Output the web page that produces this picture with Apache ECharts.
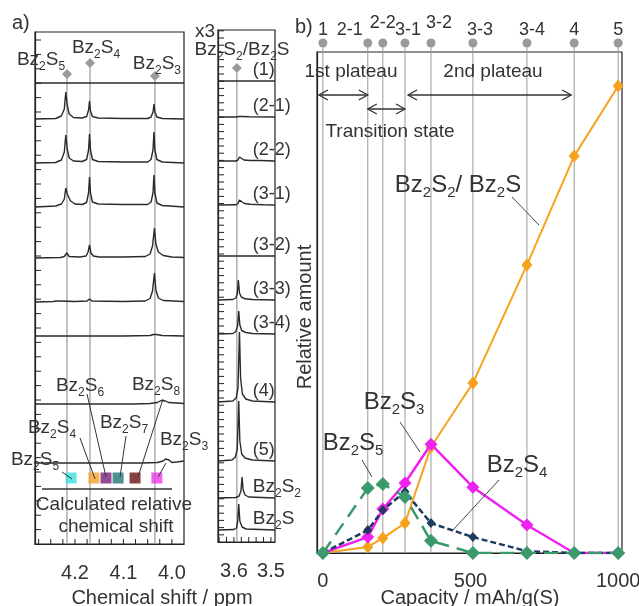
<!DOCTYPE html>
<html>
<head>
<meta charset="utf-8">
<title>Bz2Sx NMR spectra and relative amount</title>
<style>
  html, body { margin: 0; height: 100%; background: #fff; }
  #main { width: 639px; height: 606px; }
</style>
</head>
<body>
<div id="main"></div>
<script src="https://cdn.jsdelivr.net/npm/echarts@6/dist/echarts.min.js"></script>
<script>
var FONT = '"Liberation Sans", Arial, sans-serif';
var INK = '#333';

// ---- b) relative amount vs capacity ----
var capacity = [0, 152, 203, 278, 366, 508, 691, 851, 1000];
var sampleNames = ['1', '2-1', '2-2', '3-1', '3-2', '3-3', '3-4', '4', '5'];
var amountS2 = [0, 0.013, 0.032, 0.064, 0.227, 0.364, 0.617, 0.850, 1.0];
var amountS3 = [0, 0.034, 0.094, 0.150, 0.233, 0.141, 0.060, 0, 0];
var amountS4 = [0, 0.049, 0.092, 0.131, 0.064, 0.034, 0.004, 0, 0];
var amountS5 = [0, 0.139, 0.148, 0.120, 0.026, 0, 0, 0, 0];
var capacityLabels = [0, 500, 1000];

// ---- a) 1H NMR spectra, [ppm, intensity] ----
var spectrumNames = ['(1)', '(2-1)', '(2-2)', '(3-1)', '(3-2)', '(3-3)', '(3-4)', '(4)', '(5)', 'Bz2S2', 'Bz2S'];
var spectrumOffsets = [461, 425, 381, 337, 286, 242, 208, 140, 81, 44, 12];

var spectraLeft = [
  [[4.282, 0], [3.975, 0]],
  [[4.282, 0], [4.24, 0.5], [4.228, 3], [4.222, 10], [4.219, 27], [4.216, 14], [4.212, 5], [4.203, 1.5], [4.185, 1], [4.176, 2.5], [4.172, 9], [4.170, 18], [4.168, 8], [4.164, 2.5], [4.152, 1], [4.10, 0.5], [4.05, 0.5], [4.043, 2], [4.039, 7], [4.037, 15], [4.035, 7], [4.031, 2], [4.02, 0.5], [3.975, 0]],
  [[4.282, 0], [4.24, 0.5], [4.228, 3], [4.222, 11], [4.219, 28], [4.216, 14], [4.212, 5], [4.203, 2], [4.185, 1.5], [4.176, 3.5], [4.172, 13], [4.170, 29], [4.168, 13], [4.164, 3.5], [4.152, 1.5], [4.10, 1], [4.05, 1], [4.043, 3.5], [4.039, 13], [4.037, 31], [4.035, 13], [4.031, 3.5], [4.02, 1], [3.975, 0]],
  [[4.282, 0], [4.24, 1], [4.228, 3], [4.222, 8], [4.219, 19], [4.216, 13], [4.213, 14], [4.209, 6], [4.200, 3], [4.185, 2.5], [4.176, 4.5], [4.172, 14], [4.170, 30], [4.168, 14], [4.164, 5], [4.152, 3], [4.10, 2.5], [4.05, 2.5], [4.043, 5], [4.039, 14], [4.037, 32], [4.035, 14], [4.031, 4], [4.02, 1.5], [3.975, 0]],
  [[4.282, 0], [4.23, 0.5], [4.222, 1.5], [4.217, 5], [4.212, 1.5], [4.19, 1], [4.177, 2], [4.173, 6], [4.170, 13], [4.167, 5], [4.162, 2], [4.15, 1], [4.10, 1], [4.055, 1.5], [4.045, 4], [4.040, 12], [4.036, 30], [4.033, 14], [4.028, 6], [4.018, 2.5], [4.0, 1], [3.975, 0.5]],
  [[4.282, 0], [4.245, 0.5], [4.238, 1], [4.235, 3], [4.232, 1], [4.20, 0.5], [4.175, 1], [4.170, 3], [4.165, 1], [4.10, 0.5], [4.055, 1], [4.045, 3.5], [4.040, 11], [4.036, 29], [4.033, 12], [4.028, 4], [4.018, 1.5], [3.975, 0.5]],
  [[4.282, 0], [4.10, 0], [4.045, 0.5], [4.038, 1.5], [4.035, 3], [4.032, 1.5], [4.02, 0.5], [3.975, 0]],
  [[4.282, 0], [4.08, 0], [4.045, 0.5], [4.03, 1.5], [4.022, 3.5], [4.018, 5.5], [4.013, 3], [4.007, 1.5], [3.99, 1], [3.975, 0.5]],
  [[4.282, 0], [4.06, 0], [4.03, 0.5], [4.018, 2], [4.013, 4], [4.010, 6], [4.006, 3], [4.0, 0.5], [3.99, 1], [3.975, 2]]
];

var spectraRight = [
  [[3.643, 0], [3.489, 0]],
  [[3.643, 0], [3.595, 0], [3.587, 0.5], [3.583, 1.5], [3.578, 0.5], [3.56, 0.3], [3.489, 0]],
  [[3.643, 0], [3.595, 0], [3.589, 1], [3.585, 4], [3.581, 2], [3.573, 1], [3.555, 0.5], [3.535, 0.5], [3.532, 1.5], [3.529, 0.5], [3.489, 0]],
  [[3.643, 0], [3.595, 0.2], [3.589, 1.5], [3.585, 5], [3.581, 3], [3.572, 1.5], [3.555, 0.8], [3.52, 0.3], [3.489, 0]],
  [[3.643, 0], [3.489, 0]],
  [[3.643, 0], [3.603, 0.5], [3.595, 2], [3.591, 6], [3.588, 20], [3.585, 7], [3.580, 3], [3.57, 1.2], [3.55, 0.5], [3.489, 0]],
  [[3.643, 0], [3.603, 0.5], [3.595, 2.5], [3.590, 8], [3.587, 23], [3.584, 9], [3.579, 3.5], [3.568, 1.5], [3.55, 0.5], [3.489, 0]],
  [[3.643, 0], [3.603, 1], [3.594, 4], [3.589, 14], [3.585, 70], [3.582, 24], [3.577, 8], [3.568, 3], [3.55, 1], [3.489, 0]],
  [[3.643, 0], [3.605, 1], [3.596, 4], [3.591, 12], [3.587, 60], [3.584, 20], [3.579, 7], [3.570, 3], [3.55, 1], [3.489, 0]],
  [[3.643, 0], [3.595, 0.5], [3.586, 2], [3.581, 7], [3.578, 21], [3.575, 8], [3.570, 3], [3.56, 1], [3.489, 0]],
  [[3.643, 0], [3.600, 0.5], [3.593, 2], [3.590, 8], [3.587, 26], [3.584, 9], [3.578, 3], [3.567, 1], [3.489, 0]]
];

var refNames = ['Bz2S5', 'Bz2S4', 'Bz2S3'];
var refShifts = [4.2165, 4.169, 4.035];
var refNameRight = 'Bz2S2/Bz2S';
var refShiftRight = 3.592;

var calcNames = ['Bz2S5', 'Bz2S4', 'Bz2S6', 'Bz2S7', 'Bz2S8', 'Bz2S3'];
var calcShifts = [4.208, 4.161, 4.136, 4.111, 4.076, 4.031];

var leftTickValues = [4.275, 4.25, 4.225, 4.2, 4.175, 4.15, 4.125, 4.1, 4.075, 4.05, 4.025, 4.0];
var leftTickLabels = [4.0, 4.1, 4.2];
var rightTickValues = [3.50, 3.52, 3.54, 3.56, 3.58, 3.60, 3.62, 3.64];
var rightTickLabels = [3.5, 3.6];

// ---- layout / style ----
var calcColors = ['#3ee0e0', '#f5a02a', '#7a1f7a', '#1f7777', '#6b1010', '#e83ae8'];
var refTopLeft = [470, 481, 468];
var refLabelShift = [[-26, -14], [6, -15], [2, -12]];
var sampleDx = [0, -18, 0, 3, 8, 7, 5, 0, 0];
var sampleDy = [0, 0, -7, 0, -7, 0, 0, 0, 0];

// evenly spaced inner ticks along the stacked-spectra axes
function tickSteps(max, step) {
  var out = [];
  for (var v = step; v < max; v += step) out.push(Math.round(v * 10) / 10);
  return out;
}

function chem(t) {
  return t.replace(/(\d)|([^\d]+)/g, function (m, d, s) {
    return d ? '{s|' + d + '}' : '{n|' + s + '}';
  });
}
function richSet(big, small) {
  return {
    n: {fontSize: big, fontFamily: FONT, fill: INK, color: INK, lineHeight: big + 6, verticalAlign: 'middle'},
    s: {fontSize: small, fontFamily: FONT, fill: INK, color: INK, lineHeight: small, verticalAlign: 'bottom'}
  };
}
var richA = richSet(19, 12);
var richB = richSet(24, 15);

function label(txt, x, y, opts) {
  opts = opts || {};
  var isChem = /^Bz/.test(txt);
  return {
    type: 'text', z: 100, silent: true,
    x: x, y: y, rotation: opts.rotation || 0,
    style: {
      text: isChem ? chem(txt) : txt,
      rich: isChem ? (opts.rich || richA) : undefined,
      font: (opts.size || 19) + 'px ' + FONT,
      fill: INK,
      align: opts.align || 'center',
      verticalAlign: 'middle'
    }
  };
}
function seg(x1, y1, x2, y2, color, w) {
  return {type: 'line', z: 100, silent: true, shape: {x1: x1, y1: y1, x2: x2, y2: y2},
    style: {stroke: color || '#555', lineWidth: w || 1}};
}
function arrow(x1, x2, y) {
  return [
    seg(x1, y, x2, y, '#333', 1.3),
    {type: 'polyline', z: 100, silent: true, shape: {points: [[x1 + 9, y - 5], [x1, y], [x1 + 9, y + 5]]}, style: {stroke: '#333', lineWidth: 1.3, fill: null}},
    {type: 'polyline', z: 100, silent: true, shape: {points: [[x2 - 9, y - 5], [x2, y], [x2 - 9, y + 5]]}, style: {stroke: '#333', lineWidth: 1.3, fill: null}}
  ];
}

var chart = echarts.init(document.getElementById('main'));

function nmrXAxis(grid, min, max, labels) {
  return {
    type: 'value', gridIndex: grid, min: min, max: max, inverse: true,
    axisLine: {show: true, onZero: false, lineStyle: {color: '#222', width: 1.2}},
    axisTick: {show: false},
    axisLabel: {show: true, customValues: labels, margin: 19, fontSize: 20, fontFamily: FONT, color: INK,
      formatter: function (v) { return v.toFixed(1); }},
    splitLine: {show: false}
  };
}
function nmrYAxis(grid) {
  return {
    type: 'value', gridIndex: grid, min: 0, max: 512,
    axisLine: {show: true, onZero: false, lineStyle: {color: '#222', width: 1.2}},
    axisTick: {show: false}, axisLabel: {show: false}, splitLine: {show: false}
  };
}

var series = [];

// reference lines (a)
series.push({
  type: 'custom', xAxisIndex: 0, yAxisIndex: 0, z: 1, silent: true,
  data: refShifts.map(function (s) { return [s, 0]; }),
  renderItem: function (params, api) {
    var i = params.dataIndex;
    var b = api.coord([api.value(0), 0]);
    var t = api.coord([api.value(0), refTopLeft[i]]);
    return {type: 'group', children: [
      {type: 'line', shape: {x1: b[0], y1: b[1], x2: t[0], y2: t[1]}, style: {stroke: '#9a9a9a', lineWidth: 1.2}},
      {type: 'polygon', shape: {points: [[t[0], t[1] - 5], [t[0] + 5, t[1]], [t[0], t[1] + 5], [t[0] - 5, t[1]]]}, style: {fill: '#9a9a9a'}},
      {type: 'text', style: {text: chem(refNames[i]), rich: richA, x: t[0] + refLabelShift[i][0], y: t[1] + refLabelShift[i][1], align: 'center', verticalAlign: 'middle', fill: INK}}
    ]};
  }
});
series.push({
  type: 'custom', xAxisIndex: 1, yAxisIndex: 1, z: 1, silent: true,
  data: [[refShiftRight, 0]],
  renderItem: function (params, api) {
    var b = api.coord([api.value(0), 0]);
    var t = api.coord([api.value(0), 474]);
    return {type: 'group', children: [
      {type: 'line', shape: {x1: b[0], y1: b[1], x2: t[0], y2: t[1]}, style: {stroke: '#9a9a9a', lineWidth: 1.2}},
      {type: 'polygon', shape: {points: [[t[0], t[1] - 5], [t[0] + 5, t[1]], [t[0], t[1] + 5], [t[0] - 5, t[1]]]}, style: {fill: '#9a9a9a'}}
    ]};
  }
});

spectraLeft.forEach(function (pts, i) {
  series.push({
    type: 'line', name: spectrumNames[i], xAxisIndex: 0, yAxisIndex: 0, z: 3, silent: true,
    symbol: 'none', lineStyle: {color: '#2a2a2a', width: 1.4},
    data: pts.map(function (p) { return [p[0], spectrumOffsets[i] + p[1]]; })
  });
});
spectraRight.forEach(function (pts, i) {
  series.push({
    type: 'line', name: spectrumNames[i], xAxisIndex: 1, yAxisIndex: 1, z: 3, silent: true,
    symbol: 'none', lineStyle: {color: '#2a2a2a', width: 1.4},
    data: pts.map(function (p) { return [p[0], spectrumOffsets[i] + p[1]]; })
  });
});

// calculated relative chemical shifts
series.push({
  type: 'scatter', xAxisIndex: 0, yAxisIndex: 0, z: 4, silent: true,
  symbol: 'rect', symbolSize: 11,
  data: calcShifts.map(function (s, i) {
    return {name: calcNames[i], value: [s, 66], itemStyle: {color: calcColors[i]}};
  })
});

// sample lines (b)
series.push({
  type: 'custom', xAxisIndex: 2, yAxisIndex: 2, z: 1, silent: true,
  data: capacity.map(function (c) { return [c, 0]; }),
  renderItem: function (params, api) {
    var i = params.dataIndex;
    var p = api.coord([api.value(0), 0]);
    var top = params.coordSys.y - 9;
    return {type: 'group', children: [
      {type: 'line', shape: {x1: p[0], y1: p[1], x2: p[0], y2: top}, style: {stroke: '#9a9a9a', lineWidth: 1}},
      {type: 'circle', shape: {cx: p[0], cy: top, r: 4.5}, style: {fill: '#9a9a9a'}},
      {type: 'text', style: {text: sampleNames[i], x: p[0] + sampleDx[i], y: top - 13 + sampleDy[i],
        align: 'center', verticalAlign: 'middle', font: '18px ' + FONT, fill: INK}}
    ]};
  }
});

function amountSeries(name, values, color, width, dash, size, z) {
  return {
    type: 'line', name: name, xAxisIndex: 2, yAxisIndex: 2, z: z, silent: true,
    data: capacity.map(function (c, i) { return [c, values[i]]; }),
    symbol: 'diamond', symbolSize: size, showAllSymbol: true,
    lineStyle: {color: color, width: width, type: dash},
    itemStyle: {color: color, borderWidth: 0}
  };
}
series.push(amountSeries('Bz2S2/Bz2S', amountS2, '#f7a21e', 2, 'solid', [11, 13], 5));
series.push(amountSeries('Bz2S3', amountS3, '#ee22ee', 2.5, 'solid', [13, 13], 6));
series.push(amountSeries('Bz2S4', amountS4, '#1f3a5f', 2.5, [6, 3], [9, 10], 7));
series.push(amountSeries('Bz2S5', amountS5, '#3a9a6c', 2.5, [14, 8], [14, 14], 8));

chart.setOption({
  animation: false,
  textStyle: {fontFamily: FONT},
  grid: [
    {show: true, left: 35, top: 32, width: 149, height: 512, borderColor: '#222', borderWidth: 1.2, containLabel: false, outerBoundsMode: 'none'},
    {show: true, left: 218, top: 30, width: 57, height: 512, borderColor: '#222', borderWidth: 1.2, containLabel: false, outerBoundsMode: 'none'},
    {show: true, left: 317, top: 52, width: 305, height: 501, borderColor: '#222', borderWidth: 1.2, containLabel: false, outerBoundsMode: 'none'}
  ],
  xAxis: [
    nmrXAxis(0, 3.975, 4.2825, leftTickLabels),
    nmrXAxis(1, 3.489, 3.643, rightTickLabels),
    {
      type: 'value', gridIndex: 2, min: -20, max: 1013,
      axisLine: {show: true, onZero: false, lineStyle: {color: '#222', width: 1.2}},
      axisTick: {show: false},
      axisLabel: {show: true, customValues: capacityLabels, margin: 18, fontSize: 20, fontFamily: FONT, color: INK,
        formatter: function (v) { return String(v); }},
      splitLine: {show: false}
    }
  ],
  yAxis: [
    nmrYAxis(0),
    nmrYAxis(1),
    {
      type: 'value', gridIndex: 2, min: 0, max: 1.073,
      axisLine: {show: true, onZero: false, lineStyle: {color: '#222', width: 1.2}},
      axisTick: {show: false}, axisLabel: {show: false}, splitLine: {show: false}
    }
  ],
  series: series
});

// annotations
var g = [];

// inward ticks of the two NMR frames, placed through the axes
function innerTicks(grid, xVals, yVals, xEdge) {
  xVals.forEach(function (v) {
    var p = chart.convertToPixel({gridIndex: grid}, [v, 0]);
    g.push(seg(p[0], p[1], p[0], p[1] - 5, '#222', 1));
  });
  yVals.forEach(function (v) {
    var p = chart.convertToPixel({gridIndex: grid}, [xEdge, v]);
    g.push(seg(p[0], p[1], p[0] + 6, p[1], '#222', 1));
  });
}
innerTicks(0, leftTickValues, tickSteps(512, 14.4), 4.2825);
innerTicks(1, rightTickValues, tickSteps(512, 7.2), 3.643);

g.push(label('a)', 12, 23, {align: 'left', size: 20}));
g.push(label('b)', 295, 27, {align: 'left', size: 20}));
g.push(label('x3', 205, 32));
g.push(label(refNameRight, 242, 50));

spectrumNames.forEach(function (nm, i) {
  var p = chart.convertToPixel({gridIndex: 1}, [3.549, spectrumOffsets[i]]);
  g.push(label(nm, p[0], p[1] - 11, {align: 'left', size: 18}));
});

// calculated shift labels and leaders
g.push(label('Bz2S6', 80, 386));
g.push(label('Bz2S8', 156, 385));
g.push(label('Bz2S4', 52, 428));
g.push(label('Bz2S7', 124, 423));
g.push(label('Bz2S5', 35, 460));
g.push(label('Bz2S3', 184, 440));
g.push(seg(62, 472, 72, 479, '#333'));
g.push(seg(80, 438, 95, 479, '#333'));
g.push(seg(87, 394, 106, 477, '#333'));
g.push(seg(126, 436, 120, 477, '#333'));
g.push(seg(163, 399, 138, 477, '#333'));
g.push(seg(166, 463, 158, 477, '#333'));
g.push(seg(42, 489, 172, 489, '#333', 1.3));
g.push(label('Calculated relative', 114, 505));
g.push(label('chemical shift', 116, 527));
g.push(label('Chemical shift / ppm', 162, 598, {size: 20}));

// panel b annotations
var px = capacity.map(function (c) { return chart.convertToPixel({gridIndex: 2}, [c, 0])[0]; });
g = g.concat(arrow(px[0] - 4, px[1], 95));
g = g.concat(arrow(px[1], px[3], 109));
g = g.concat(arrow(px[3] + 3, px[7] - 3, 95));
g.push(label('1st plateau', 351, 72));
g.push(label('2nd plateau', 493, 72));
g.push(label('Transition state', 390, 132));

g.push(label('Bz2S2/ Bz2S', 458, 185, {rich: richB}));
g.push(label('Bz2S3', 394, 402, {rich: richB}));
g.push(label('Bz2S5', 353, 443, {rich: richB}));
g.push(label('Bz2S4', 517, 465, {rich: richB}));
g.push(seg(512, 197, 539, 225, '#444'));
g.push(seg(400, 422, 420, 452, '#444'));
g.push(seg(362, 460, 372, 477, '#444'));
g.push(seg(499, 480, 453, 530, '#444'));

g.push(label('Relative amount', 305, 317, {rotation: Math.PI / 2, size: 20}));
g.push(label('Capacity / mAh/g(S)', 470, 598, {size: 20}));

chart.setOption({graphic: {elements: g}});
</script>
</body>
</html>
